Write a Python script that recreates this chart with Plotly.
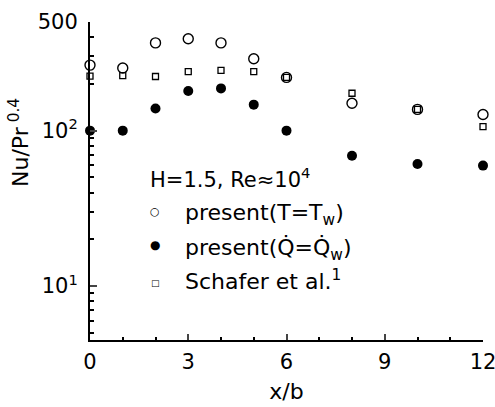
import plotly.graph_objects as go
import math

x_open = [0, 1, 2, 3, 4, 5, 6, 8, 10, 12]
nu_open = [264, 253, 367, 390, 367, 290, 220, 150, 137, 127]

x_filled = [0, 1, 2, 3, 4, 5, 6, 8, 10, 12]
nu_filled = [100, 100, 139, 180, 187, 147, 100, 69, 61, 59.6]

x_schafer = [0, 1, 2, 3, 4, 5, 6, 8, 10, 12]
nu_schafer = [224, 226, 223, 240, 244, 240, 220, 174, 137, 106]

xticks = [0, 3, 6, 9, 12]
yticks = [10, 100, 500]
yticktext = ["10<sup>1</sup>", "10<sup>2</sup>", "500"]

FONT = "DejaVu Sans, Liberation Sans, sans-serif"
L, R, T, B = 90, 12, 22, 67
W, H = 495, 407

fig = go.Figure()
fig.add_trace(go.Scatter(x=x_open, y=nu_open, mode="markers", cliponaxis=False,
                         marker=dict(symbol="circle-open", size=10, color="black", line=dict(width=1.4))))
fig.add_trace(go.Scatter(x=x_filled, y=nu_filled, mode="markers", cliponaxis=False,
                         marker=dict(symbol="circle", size=10, color="black")))
fig.add_trace(go.Scatter(x=x_schafer, y=nu_schafer, mode="markers", cliponaxis=False,
                         marker=dict(symbol="square-open", size=6, color="black", line=dict(width=1.3))))

fig.update_layout(
    width=W, height=H,
    margin=dict(l=L, r=R, t=T, b=B, autoexpand=False),
    paper_bgcolor="white", plot_bgcolor="white",
    showlegend=False,
    font=dict(family=FONT, size=21, color="black"),
)
fig.update_xaxes(range=[0, 12], tickvals=xticks, ticks="inside", ticklen=6, tickwidth=1.5,
                 automargin=False, ticklabeloverflow="allow",
                 showline=True, linecolor="black", linewidth=2, showgrid=False, zeroline=False,
                 tickfont=dict(size=21), ticklabelstandoff=2,
                 minor=dict(ticks="inside", ticklen=3, tickcolor="black", dtick=1, showgrid=False),
                 title=dict(text="x/b", font=dict(size=22), standoff=10))
fig.update_yaxes(type="log", range=[math.log10(4.5), math.log10(500)],
                 automargin=False, ticklabeloverflow="allow",
                 tickvals=yticks, ticktext=yticktext, ticks="inside", ticklen=7, tickwidth=1.5,
                 showline=True, linecolor="black", linewidth=2, showgrid=False, zeroline=False,
                 tickfont=dict(size=21), ticklabelstandoff=6,
                 minor=dict(ticks="inside", ticklen=4, tickcolor="black", showgrid=False,
                            tickvals=[5, 6, 7, 8, 9, 20, 30, 40, 50, 60, 70, 80, 90, 200, 300, 400]))

ann = [
    dict(text="Nu/Pr<sup> 0.4</sup>", x=19, y=143, textangle=-90, size=22),
    dict(text="H=1.5, Re\u224810<sup>4</sup>", x=148, y=178, xanchor="left", size=21),
    dict(text="\u25cb", x=155, y=211, size=11),
    dict(text="present(T=T<sub>w</sub>)", x=183, y=214, xanchor="left", size=22),
    dict(text="\u25cf", x=155, y=245, size=12),
    dict(text="present(Q\u0307=Q\u0307<sub>w</sub>)", x=183, y=250, xanchor="left", size=22),
    dict(text="\u25a1", x=155, y=283, size=9),
    dict(text="Schafer et al.<sup>1</sup>", x=183, y=280, xanchor="left", size=22),
]
for a in ann:
    fig.add_annotation(text=a["text"], xref="paper", yref="paper",
                       x=(a["x"] - L) / (W - L - R), y=1 - (a["y"] - T) / (H - T - B),
                       xanchor=a.get("xanchor", "center"), yanchor="middle",
                       textangle=a.get("textangle", 0), showarrow=False,
                       font=dict(family=FONT, size=a["size"], color="black"))

fig.write_html("out.html", config={"displayModeBar": False},
               post_script="document.body.style.margin='0';document.body.style.overflow='hidden';")
